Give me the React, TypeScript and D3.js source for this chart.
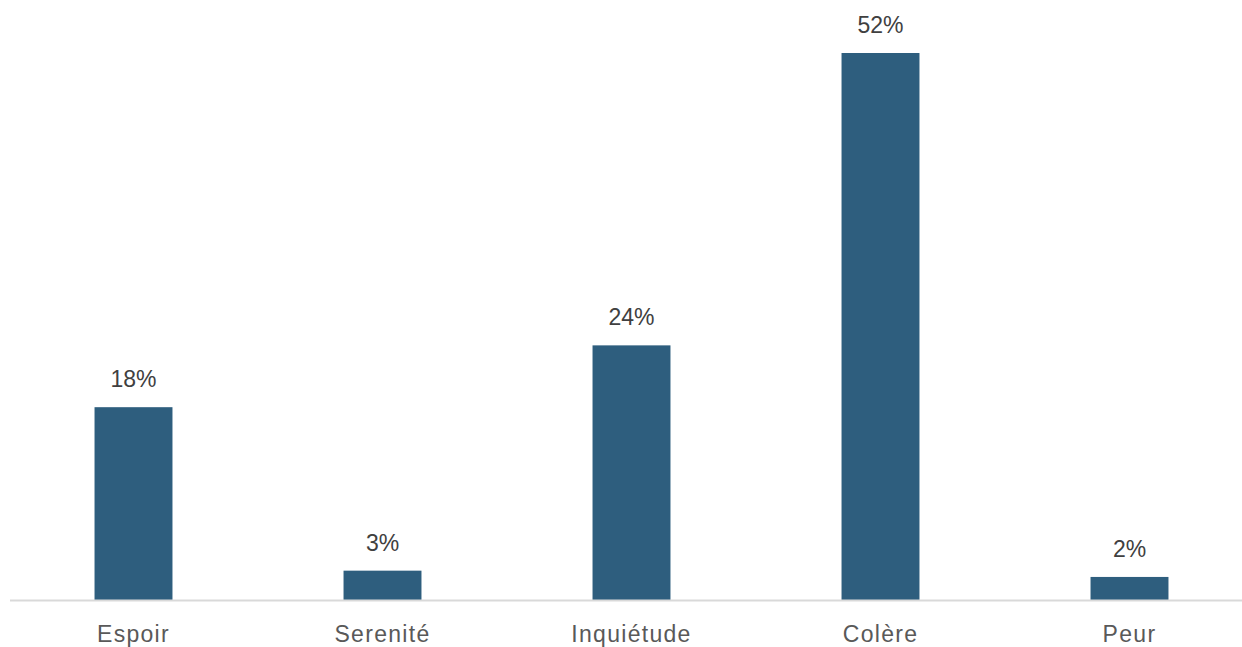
import React from "react";
import * as d3 from "d3";

const categories = ["Espoir", "Serenité", "Inquiétude", "Colère", "Peur"];
const values = [18.4, 2.8, 24.3, 52.2, 2.2];

const W = 1242;
const H = 647;
const baseY = 600;
const topY = 53;

export default function App() {
  const x = d3
    .scaleBand<string>()
    .domain(categories)
    .range([9, 1254])
    .paddingInner(0.687)
    .paddingOuter(0.3435);
  const y = d3.scaleLinear().domain([0, d3.max(values) as number]).range([baseY, topY]);
  const font = "'Liberation Sans', Arial, sans-serif";
  return (
    <svg
      width={W}
      height={H}
      style={{ position: "absolute", left: 0, top: 0, background: "#fff" }}
    >
      {categories.map((c, i) => (
        <rect
          key={c}
          x={x(c)}
          y={y(values[i])}
          width={x.bandwidth()}
          height={baseY - y(values[i])}
          fill="#2e5e7e"
        />
      ))}
      <line x1={10} x2={W} y1={baseY + 0.5} y2={baseY + 0.5} stroke="#d9d9d9" strokeWidth={2} />
      {categories.map((c, i) => (
        <text
          key={"v" + c}
          x={(x(c) as number) + x.bandwidth() / 2}
          y={y(values[i]) - 20}
          textAnchor="middle"
          fontFamily={font}
          fontSize={23}
          fill="#404040"
        >
          {Math.round(values[i]) + "%"}
        </text>
      ))}
      {categories.map((c) => (
        <text
          key={"c" + c}
          x={(x(c) as number) + x.bandwidth() / 2}
          y={642}
          textAnchor="middle"
          fontFamily={font}
          fontSize={23}
          fill="#595959"
          letterSpacing={1.3}
        >
          {c}
        </text>
      ))}
    </svg>
  );
}
